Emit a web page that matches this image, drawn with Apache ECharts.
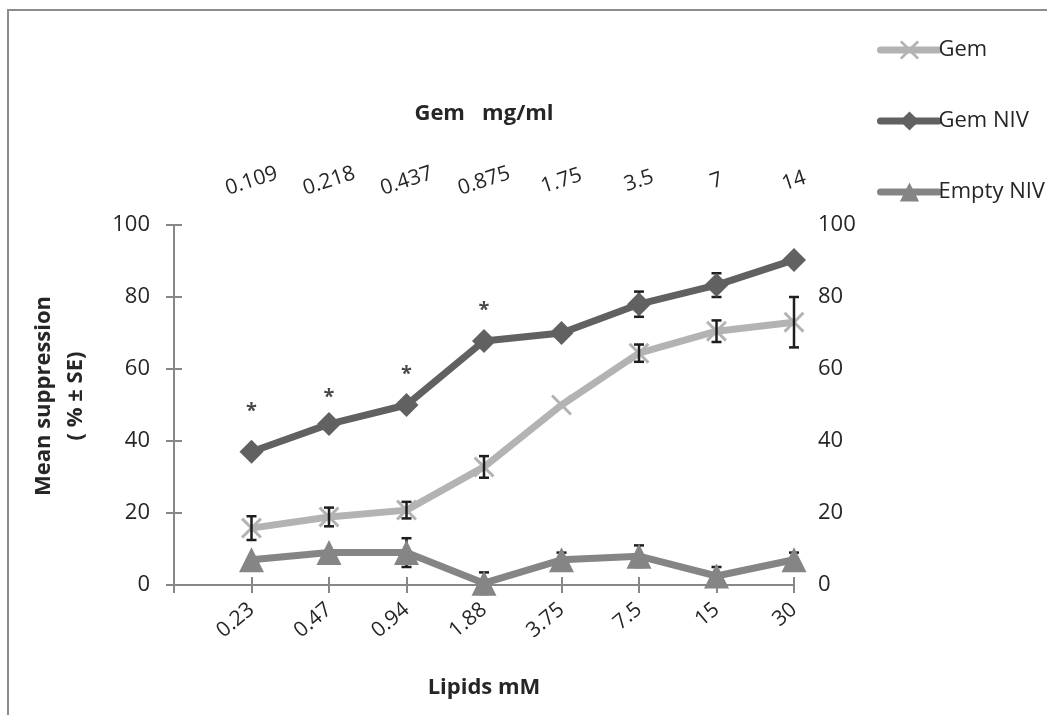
<!DOCTYPE html>
<html>
<head>
<meta charset="utf-8">
<script src="https://cdn.jsdelivr.net/npm/echarts@6/dist/echarts.min.js"></script>
<style>
  html, body { margin: 0; padding: 0; background: #ffffff; }
  #chart { width: 1047px; height: 715px; }
</style>
</head>
<body>
<div id="chart"></div>
<script>
// Tick labels for the two category scales
const lipidLabels = ['0.23', '0.47', '0.94', '1.88', '3.75', '7.5', '15', '30'];
const gemDoseLabels = ['0.109', '0.218', '0.437', '0.875', '1.75', '3.5', '7', '14'];

// Mean suppression (%) and standard errors
const gemValues = [15.8, 18.9, 20.8, 32.8, 50, 64.4, 70.5, 73];
const gemErrors = [3.3, 2.6, 2.3, 3, 0, 2.4, 3, 7];
const gemNivValues = [37, 44.7, 50, 67.8, 70, 78, 83.3, 90.3];
const gemNivErrors = [0, 0, 0, 0, 0, 3.5, 3.3, 0];
const emptyNivValues = [7, 9, 9, 0.5, 7, 8, 2.5, 7];
const emptyNivErrors = [0, 0, 4, 3, 2, 3, 2.5, 2];

// Significance markers (height of each asterisk) for the first four doses
const significanceHeights = [48.3, 52.2, 58.6, 76.4];

const FONT = '"Open Sans", "Noto Sans", sans-serif';
const AXIS_GREY = '#878787';
const TEXT = '#262626';

const toPoints = arr => arr.map((v, i) => [i + 1, v]);

function errorBarSeries(values, errors, z) {
  return {
    type: 'custom',
    xAxisIndex: 0,
    yAxisIndex: 0,
    z: z,
    silent: true,
    data: values.map((v, i) => [i + 1, v - errors[i], v + errors[i], errors[i]]),
    encode: { x: 0, y: [1, 2] },
    renderItem(params, api) {
      if (!api.value(3)) return null;
      const lo = api.coord([api.value(0), api.value(1)]);
      const hi = api.coord([api.value(0), api.value(2)]);
      const cap = 5;
      const style = { stroke: '#1e1e1e', lineWidth: 2.5 };
      return {
        type: 'group',
        children: [
          { type: 'line', shape: { x1: lo[0], y1: lo[1], x2: hi[0], y2: hi[1] }, style },
          { type: 'line', shape: { x1: lo[0] - cap, y1: lo[1], x2: lo[0] + cap, y2: lo[1] }, style },
          { type: 'line', shape: { x1: hi[0] - cap, y1: hi[1], x2: hi[0] + cap, y2: hi[1] }, style }
        ]
      };
    }
  };
}

const crossSymbol = 'path://M0,1L1,0L5,4L9,0L10,1L6,5L10,9L9,10L5,6L1,10L0,9L4,5Z';

const axisLineStyle = { color: AXIS_GREY, width: 2 };

const chart = echarts.init(document.getElementById('chart'), null, { renderer: 'canvas' });

chart.setOption({
  animation: false,
  backgroundColor: '#ffffff',
  textStyle: { fontFamily: FONT },
  graphic: [{
    type: 'polyline',
    shape: { points: [[8, 715], [8, 10], [1047, 10]] },
    style: { stroke: '#8c8c8c', lineWidth: 2, fill: null },
    silent: true
  }],
  grid: { left: 174, right: 253, top: 225, bottom: 130, containLabel: false },
  legend: {
    orient: 'vertical',
    left: 872,
    top: 34,
    itemWidth: 58,
    itemHeight: 24,
    itemGap: 49,
    lineStyle: { width: 7, cap: 'round' },
    textStyle: { fontSize: 22, color: TEXT, fontFamily: FONT, padding: [0, 0, 0, -5] },
    data: ['Gem', 'Gem NIV', 'Empty NIV']
  },
  xAxis: [
    {
      type: 'value',
      position: 'bottom',
      min: 0, max: 8, interval: 1,
      name: 'Lipids mM',
      nameLocation: 'middle',
      nameGap: 92,
      nameTextStyle: { fontSize: 22, fontWeight: 'bold', color: TEXT, fontFamily: FONT },
      axisLine: { lineStyle: axisLineStyle },
      axisTick: { show: true, length: 8, lineStyle: axisLineStyle },
      splitLine: { show: false },
      axisLabel: {
        rotate: 40,
        margin: 22,
        fontSize: 21,
        color: TEXT,
        fontFamily: FONT,
        formatter: v => lipidLabels[v - 1] || ''
      }
    },
    {
      type: 'value',
      position: 'top',
      min: 0, max: 8, interval: 1,
      name: 'Gem   mg/ml',
      nameLocation: 'middle',
      nameGap: 100,
      nameTextStyle: { fontSize: 22, fontWeight: 'bold', color: TEXT, fontFamily: FONT },
      axisLine: { lineStyle: axisLineStyle },
      axisTick: { show: true, length: 8, lineStyle: axisLineStyle },
      splitLine: { show: false },
      axisLabel: {
        rotate: 18,
        margin: 44,
        align: 'center',
        verticalAlign: 'middle',
        fontSize: 21,
        color: TEXT,
        fontFamily: FONT,
        formatter: v => gemDoseLabels[v - 1] || ''
      }
    }
  ],
  yAxis: [
    {
      type: 'value',
      position: 'left',
      min: 0, max: 100, interval: 20,
      name: 'Mean suppression\n( % ± SE)',
      nameLocation: 'middle',
      nameRotate: 90,
      nameGap: 82,
      nameTextStyle: { fontSize: 22, fontWeight: 'bold', color: TEXT, fontFamily: FONT, lineHeight: 32, align: 'center', padding: [0, 0, 0, 18] },
      axisLine: { show: true, lineStyle: axisLineStyle },
      axisTick: { show: true, length: 8, lineStyle: axisLineStyle },
      splitLine: { show: false },
      axisLabel: { margin: 24, fontSize: 22, color: TEXT, fontFamily: FONT }
    },
    {
      type: 'value',
      position: 'right',
      min: 0, max: 100, interval: 20,
      axisLine: { show: true, lineStyle: axisLineStyle },
      axisTick: { show: true, length: 8, lineStyle: axisLineStyle },
      splitLine: { show: false },
      axisLabel: { margin: 24, fontSize: 22, color: TEXT, fontFamily: FONT }
    }
  ],
  series: [
    // Error bars for the two NIV series sit beneath their markers
    errorBarSeries(gemNivValues, gemNivErrors, 1),
    errorBarSeries(emptyNivValues, emptyNivErrors, 1),
    {
      name: 'Gem',
      type: 'line',
      data: toPoints(gemValues),
      color: '#b3b3b3',
      lineStyle: { width: 7, color: '#b3b3b3' },
      symbol: crossSymbol,
      symbolSize: 21,
      itemStyle: { color: '#b3b3b3' },
      z: 2
    },
    {
      name: 'Gem NIV',
      type: 'line',
      data: toPoints(gemNivValues),
      color: '#616161',
      lineStyle: { width: 7, color: '#616161' },
      symbol: 'diamond',
      symbolSize: 24,
      itemStyle: { color: '#616161' },
      z: 2
    },
    {
      name: 'Empty NIV',
      type: 'line',
      data: toPoints(emptyNivValues),
      color: '#858585',
      lineStyle: { width: 7, color: '#858585' },
      symbol: 'triangle',
      symbolSize: 25,
      itemStyle: { color: '#858585' },
      z: 2
    },
    errorBarSeries(gemValues, gemErrors, 5),
    {
      type: 'scatter',
      silent: true,
      data: toPoints(significanceHeights),
      symbolSize: 2,
      itemStyle: { color: 'rgba(0,0,0,0)' },
      label: {
        show: true,
        position: 'inside',
        formatter: '*',
        fontSize: 20,
        fontWeight: 'bold',
        color: '#1a1a1a',
        fontFamily: FONT,
        offset: [0, 7]
      },
      labelLayout: { hideOverlap: false },
      z: 6
    }
  ]
});
</script>
</body>
</html>
